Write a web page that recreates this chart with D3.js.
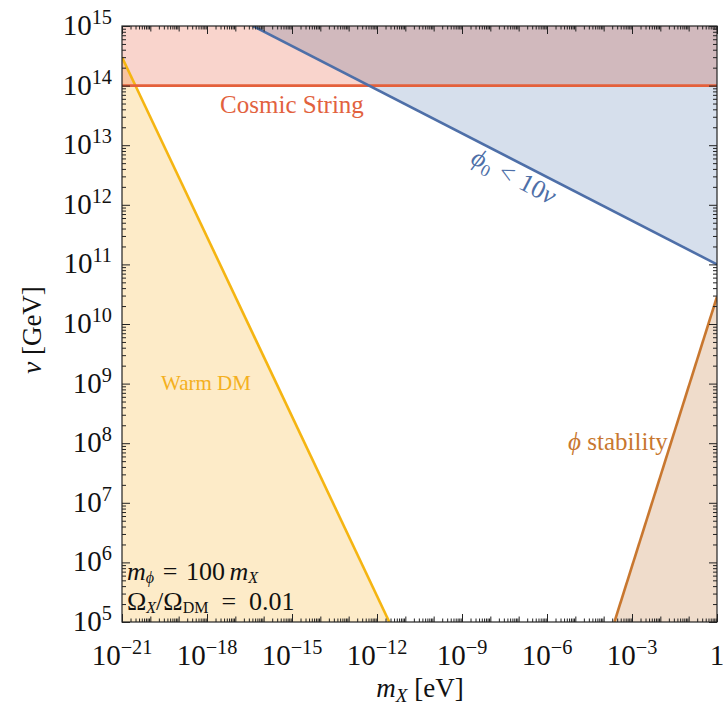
<!DOCTYPE html>
<html><head><meta charset="utf-8">
<script src="https://cdn.jsdelivr.net/npm/d3@7"></script>
<style>
body{margin:0;background:#fff;}
</style></head><body>
<svg id="chart" width="723" height="711" font-family="'Liberation Serif', Tinos, 'Times New Roman', 'DejaVu Serif', serif"></svg>
<script>
// Axis domains
const xDomain = [1e-21, 1];          // m_X [eV]
const yDomain = [1e5, 1e15];         // v [GeV]
const xTickExponents = [-21, -18, -15, -12, -9, -6, -3, 0];
const yTickExponents = [5, 6, 7, 8, 9, 10, 11, 12, 13, 14, 15];

// Constraint boundaries, as [m_X (eV), v (GeV)] end points
const warmDM       = [[1e-21, 2.99e14], [2.72e-12, 1e5]];
const cosmicString = [[1e-21, 1e14], [1, 1e14]];
const phi0Bound    = [[4.2e-17, 1e15], [1, 1e11]];
const phiStability = [[2.4e-4, 1e5], [1, 2.87e10]];

const FONT = "'Liberation Serif', Tinos, 'Times New Roman', 'DejaVu Serif', serif";
const svg = d3.select("#chart");
const x = d3.scaleLog().domain(xDomain).range([122, 717]);
const y = d3.scaleLog().domain(yDomain).range([622, 26]);
const [x0, x1] = xDomain, [y0, y1] = yDomain;

const line = d3.line().x(d => x(d[0])).y(d => y(d[1]));
const poly = pts => line(pts) + "Z";

const plot = svg.append("g");
plot.append("clipPath").attr("id", "clip").append("rect")
  .attr("x", x(x0)).attr("y", y(y1)).attr("width", x(x1) - x(x0)).attr("height", y(y0) - y(y1));
const area = plot.append("g").attr("clip-path", "url(#clip)");

// Excluded regions
area.append("path").attr("d", poly([[x0, y0], warmDM[0], warmDM[1]])).attr("fill", "#fdebc8");
area.append("path").attr("d", poly([phiStability[0], phiStability[1], [x1, y0]])).attr("fill", "#efdccb");
area.append("path").attr("d", poly([cosmicString[0], cosmicString[1], [x1, y1], [x0, y1]]))
  .attr("fill", "#f9d4cc").style("mix-blend-mode", "multiply");
area.append("path").attr("d", poly([phi0Bound[0], [x1, y1], phi0Bound[1]]))
  .attr("fill", "#d6dfec").style("mix-blend-mode", "multiply");

// Boundary lines
const lw = 2.6;
area.append("path").attr("d", line(warmDM)).attr("stroke", "#f5b512").attr("stroke-width", lw).attr("fill", "none");
area.append("path").attr("d", line(phiStability)).attr("stroke", "#c8772f").attr("stroke-width", lw).attr("fill", "none");
area.append("path").attr("d", line(cosmicString)).attr("stroke", "#e4603b").attr("stroke-width", lw).attr("fill", "none");
area.append("path").attr("d", line(phi0Bound)).attr("stroke", "#4e6fa8").attr("stroke-width", lw).attr("fill", "none");

// Frame
svg.append("rect").attr("x", x(x0)).attr("y", y(y1)).attr("width", x(x1) - x(x0)).attr("height", y(y0) - y(y1))
  .attr("fill", "none").attr("stroke", "#222").attr("stroke-width", 1.2);

// Tick values
function decadeMinors(lo, hi) {
  const v = [];
  for (let d = lo; d < hi; d++) for (let k = 2; k <= 9; k++) v.push(k * Math.pow(10, d));
  return v;
}
const xMinor = decadeMinors(-21, 0);
const xDecades = d3.range(-21, 1).filter(e => !xTickExponents.includes(e)).map(e => Math.pow(10, e));
const xMajor = xTickExponents.map(e => Math.pow(10, e));
const yMinor = decadeMinors(5, 15);
const yMajor = yTickExponents.map(e => Math.pow(10, e));

function ticks(gen, scale, values, size, tx, ty) {
  svg.append("g").attr("transform", `translate(${tx},${ty})`)
    .call(gen(scale).tickValues(values).tickSize(-size).tickFormat(""))
    .call(g => g.select(".domain").remove())
    .call(g => g.selectAll("line").attr("stroke", "#222").attr("stroke-width", 1));
}
[[d3.axisBottom, 0, y(y0)], [d3.axisTop, 0, y(y1)]].forEach(([gen, tx, ty]) => {
  ticks(gen, x, xMinor, 3.5, tx, ty);
  ticks(gen, x, xDecades, 5.5, tx, ty);
  ticks(gen, x, xMajor, 8, tx, ty);
});
[[d3.axisLeft, x(x0), 0], [d3.axisRight, x(x1), 0]].forEach(([gen, tx, ty]) => {
  ticks(gen, y, yMinor, 4, tx, ty);
  ticks(gen, y, yMajor, 8, tx, ty);
});

function txt(parent) {
  return parent.append("text").attr("font-family", FONT).style("font-family", FONT);
}

// Tick labels
const fs = 29;
function powerLabel(sel, exp) {
  if (exp === 0) { sel.append("tspan").text("1"); return; }
  sel.append("tspan").text("10");
  sel.append("tspan").attr("font-size", fs * 0.7).attr("dy", -11).text(exp < 0 ? "\u2212" + (-exp) : exp);
}
xTickExponents.forEach(e => {
  const t = txt(svg).attr("x", x(Math.pow(10, e))).attr("y", 665)
    .attr("font-size", fs).attr("text-anchor", "middle").attr("fill", "#111");
  powerLabel(t, e);
});
yTickExponents.forEach(e => {
  const t = txt(svg).attr("x", 112).attr("y", y(Math.pow(10, e)) + 9)
    .attr("font-size", fs).attr("text-anchor", "end").attr("fill", "#111");
  powerLabel(t, e);
});

// Axis titles
const yt = txt(svg).attr("transform", "translate(41,330) rotate(-90)")
  .attr("text-anchor", "middle").attr("font-size", 27).attr("fill", "#111");
yt.append("tspan").attr("font-style", "italic").text("\u03bd");
yt.append("tspan").text(" [GeV]");
const xt = txt(svg).attr("x", 420).attr("y", 697)
  .attr("text-anchor", "middle").attr("font-size", 27).attr("fill", "#111");
xt.append("tspan").attr("font-style", "italic").text("m");
xt.append("tspan").attr("font-style", "italic").attr("font-size", 19).attr("dy", 5).text("X");
xt.append("tspan").attr("dy", -5).text(" [eV]");

// Region labels
txt(svg).attr("x", 292).attr("y", 113).attr("text-anchor", "middle")
  .attr("font-size", 25).attr("fill", "#e2623e").text("Cosmic String");
txt(svg).attr("x", 206).attr("y", 390).attr("text-anchor", "middle")
  .attr("font-size", 21).attr("fill", "#f4b020").text("Warm DM");
const st = txt(svg).attr("x", 618).attr("y", 450).attr("text-anchor", "middle")
  .attr("font-size", 25).attr("fill", "#c8772f");
st.append("tspan").attr("font-style", "italic").text("\u03d5");
st.append("tspan").text(" stability");
const pb = txt(svg).attr("transform", "translate(510,184) rotate(27.5)")
  .attr("text-anchor", "middle").attr("font-size", 26).attr("fill", "#4e6fa8");
pb.append("tspan").attr("font-style", "italic").text("\u03d5");
pb.append("tspan").attr("font-size", 17).attr("dy", 5).text("0");
pb.append("tspan").attr("dy", -5).text("\u2004<\u200410");
pb.append("tspan").attr("font-style", "italic").text("\u03bd");

// Parameter annotation
const a1 = txt(svg).attr("x", 127).attr("y", 580).attr("font-size", 26).attr("fill", "#111");
a1.append("tspan").attr("font-style", "italic").text("m");
a1.append("tspan").attr("font-style", "italic").attr("font-size", 16).attr("dy", 3).text("\u03d5");
a1.append("tspan").attr("dy", -3).text("\u2004=\u2004100\u2006");
a1.append("tspan").attr("font-style", "italic").text("m");
a1.append("tspan").attr("font-style", "italic").attr("font-size", 16).attr("dy", 3).text("X");
const a2 = txt(svg).attr("x", 127).attr("y", 610).attr("font-size", 26).attr("fill", "#111");
a2.append("tspan").text("\u03a9");
a2.append("tspan").attr("font-style", "italic").attr("font-size", 16).attr("dy", 3).text("X");
a2.append("tspan").attr("dy", -3).text("/\u03a9");
a2.append("tspan").attr("font-size", 16).attr("dy", 3).text("DM");
a2.append("tspan").attr("dy", -3).text("\u2002=\u20020.01");
</script></body></html>
